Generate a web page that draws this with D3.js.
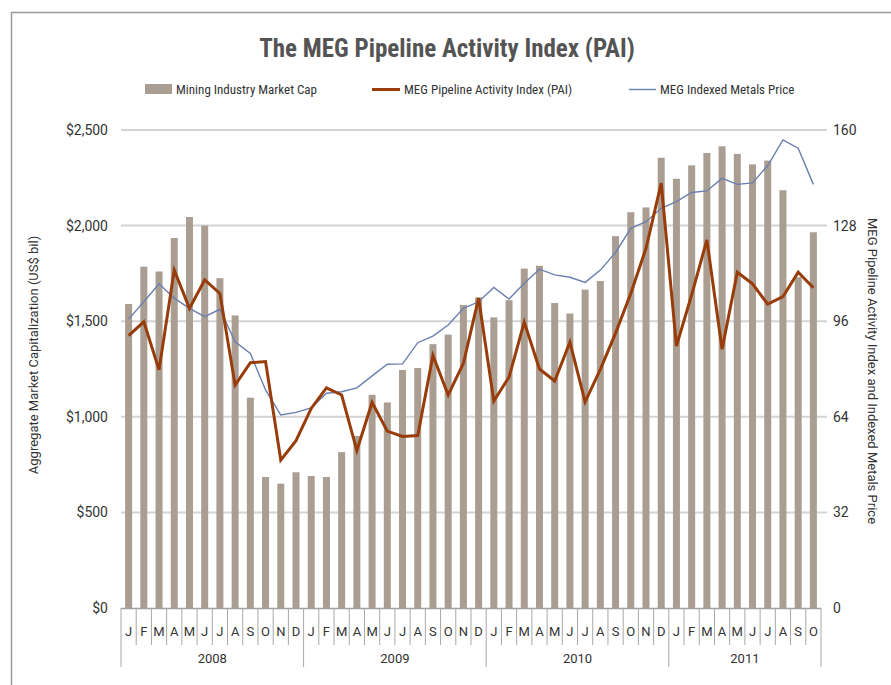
<!DOCTYPE html>
<html><head><meta charset="utf-8">
<script src="https://cdn.jsdelivr.net/npm/d3@7"></script>
<style>
body{margin:0;background:#fff;}
text{font-family:"Liberation Sans Narrow","Roboto Condensed","Arial Narrow",sans-serif;}
</style></head>
<body><svg id="c" width="891" height="685"></svg>
<script>
const months = ["J","F","M","A","M","J","J","A","S","O","N","D"];
const years = ["2008","2009","2010","2011"];
const monthCount = 46;
const marketCap = [1590,1785,1760,1935,2045,2000,1725,1530,1100,685,650,710,
  690,685,815,900,1115,1075,1245,1255,1380,1430,1585,1625,
  1520,1610,1775,1790,1595,1540,1665,1710,1945,2070,2095,2355,
  2245,2315,2380,2415,2375,2320,2340,2185,1730,1965];
const pai = [91.2,95.8,79.7,113.1,100.3,109.8,105.3,74.6,82.1,82.5,49.5,56.0,
  66.8,73.7,71.3,52.7,68.8,59.2,57.4,57.7,84.5,71.3,81.9,103.7,
  69.3,77.3,95.7,80.0,76.0,89.0,69.0,79.9,92.0,105.3,120.4,142.2,
  87.7,104.8,123.2,86.6,112.4,108.5,101.7,104.2,112.4,107.2];
const metals = [96.7,102.5,108.5,103.7,100.3,97.5,100.0,89.1,85.2,73.0,64.6,65.5,
  67.0,71.9,72.4,73.7,77.7,81.6,81.7,88.8,91.0,94.7,100.3,102.5,
  107.3,103.4,108.7,113.4,111.5,110.7,109.0,113.1,119.0,127.1,129.3,133.8,
  136.0,139.1,139.6,143.8,141.8,142.3,148.1,156.7,153.9,141.8];
const leftTicks = [0,500,1000,1500,2000,2500];
const rightTicks = [0,32,64,96,128,160];

const svg = d3.select("#c");
const L = 121, R = 821, T = 130, B = 608;
const idx = d3.range(monthCount);
const x = d3.scaleBand().domain(idx).range([L,R]).paddingInner(0.54).paddingOuter(0.27);
const xc = i => x(i) + x.bandwidth()/2;
const yL = d3.scaleLinear().domain([0,2500]).range([B,T]);
const yR = d3.scaleLinear().domain([0,160]).range([B,T]);
const step = (R-L)/monthCount;

// frame
svg.append("path").attr("d","M11.5,685 L11.5,12.5 L891,12.5").attr("fill","none").attr("stroke","#9a9a9a").attr("stroke-width",1.5);

// title
svg.append("text").attr("x",447).attr("y",57).attr("text-anchor","middle")
  .style("font-size","25px").style("font-weight","bold").attr("fill","#545454")
  .text("The MEG Pipeline Activity Index (PAI)");

// gridlines
svg.append("g").selectAll("line").data(leftTicks.slice(1)).join("line")
  .attr("x1",L).attr("x2",R+6).attr("y1",d=>yL(d)).attr("y2",d=>yL(d))
  .attr("stroke","#d4d4d4").attr("stroke-width",2);

// bars
svg.append("g").selectAll("rect").data(marketCap).join("rect")
  .attr("x",(d,i)=>x(i)).attr("width",x.bandwidth())
  .attr("y",d=>yL(d)).attr("height",d=>B-yL(d)).attr("fill","#aa9e92");

// metals line
svg.append("path").datum(metals)
  .attr("d",d3.line().x((d,i)=>xc(i)).y(d=>yR(d)))
  .attr("fill","none").attr("stroke","#6a7fb0").attr("stroke-width",1.4);
// PAI line
svg.append("path").datum(pai)
  .attr("d",d3.line().x((d,i)=>xc(i)).y(d=>yR(d)))
  .attr("fill","none").attr("stroke","#983c0a").attr("stroke-width",3).attr("stroke-linejoin","miter");

// bottom axis line
svg.append("line").attr("x1",L).attr("x2",R).attr("y1",B+0.5).attr("y2",B+0.5).attr("stroke","#a0a0a0").attr("stroke-width",1.5);
// month separators
svg.append("g").selectAll("line").data(d3.range(monthCount+1)).join("line")
  .attr("x1",i=>L+i*step).attr("x2",i=>L+i*step).attr("y1",B)
  .attr("y2",i=> (i%12===0 || i===monthCount) ? 667 : 645)
  .attr("stroke","#a8a8a8").attr("stroke-width",1);
// month labels
svg.append("g").selectAll("text").data(idx).join("text")
  .attr("x",i=>xc(i)).attr("y",636).attr("text-anchor","middle")
  .style("font-size","13px").attr("fill","#333")
  .style("font-family","Roboto, 'Liberation Sans', sans-serif")
  .text(i=>months[i%12]);
// year labels
svg.append("g").selectAll("text").data(years).join("text")
  .attr("x",(d,k)=>{const s=k*12,e=Math.min(monthCount,(k+1)*12);return L+(s+e)/2*step;})
  .attr("y",663).attr("text-anchor","middle")
  .style("font-size","13px").attr("fill","#333")
  .style("font-family","Roboto, 'Liberation Sans', sans-serif")
  .text(d=>d);

// left axis labels
const fmt = d3.format(",");
svg.append("g").selectAll("text").data(leftTicks).join("text")
  .attr("x",108).attr("y",d=>yL(d)+5).attr("text-anchor","end")
  .style("font-size","14px").attr("fill","#333")
  .style("font-family","Roboto, 'Liberation Sans', sans-serif")
  .text(d=>"$"+fmt(d));
// right axis labels
svg.append("g").selectAll("text").data(rightTicks).join("text")
  .attr("x",833).attr("y",d=>yR(d)+5).attr("text-anchor","start")
  .style("font-size","14px").attr("fill","#333")
  .style("font-family","Roboto, 'Liberation Sans', sans-serif")
  .text(d=>d);

// axis titles
svg.append("text").attr("transform","translate(38,355) rotate(-90)").attr("text-anchor","middle")
  .style("font-size","13px").attr("fill","#333")
  .style("font-family","Roboto, 'Liberation Sans', sans-serif")
  .text("Aggregate Market Capitalization (US$ bil)");
svg.append("text").attr("transform","translate(868,371) rotate(90)").attr("text-anchor","middle")
  .style("font-size","13px").attr("fill","#333")
  .style("font-family","Roboto, 'Liberation Sans', sans-serif")
  .text("MEG Pipeline Activity Index and Indexed Metals Price");

// legend
const lg = svg.append("g");
lg.append("rect").attr("x",145).attr("y",84).attr("width",27).attr("height",10).attr("fill","#aa9e92");
lg.append("text").attr("x",176).attr("y",94).style("font-size","13px").attr("fill","#333").text("Mining Industry Market Cap");
lg.append("line").attr("x1",372).attr("x2",400).attr("y1",89.5).attr("y2",89.5).attr("stroke","#983c0a").attr("stroke-width",3);
lg.append("text").attr("x",404).attr("y",94).style("font-size","13px").attr("fill","#333").text("MEG Pipeline Activity Index (PAI)");
lg.append("line").attr("x1",629).attr("x2",656).attr("y1",89.5).attr("y2",89.5).attr("stroke","#6a7fb0").attr("stroke-width",1.4);
lg.append("text").attr("x",660).attr("y",94).style("font-size","13px").attr("fill","#333").text("MEG Indexed Metals Price");
</script></body></html>
